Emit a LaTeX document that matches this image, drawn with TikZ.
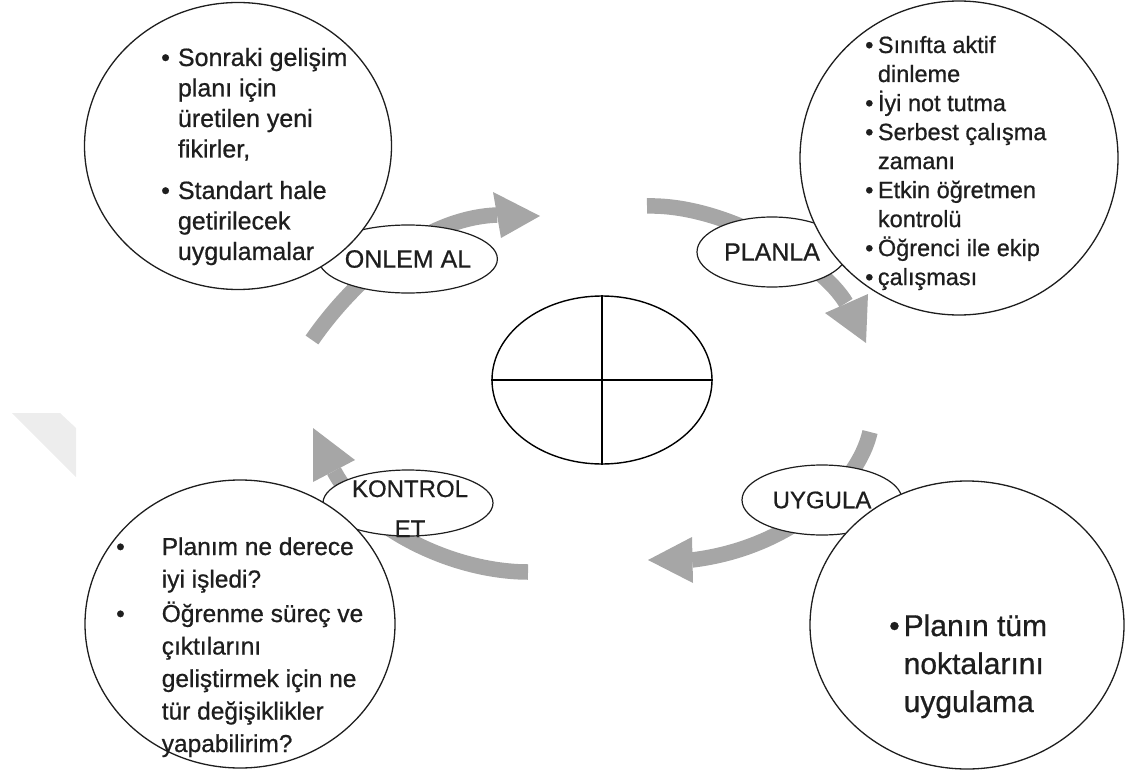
\documentclass[tikz,border=0pt]{standalone}
\usepackage{fontspec}
\setmainfont{Liberation Sans}[FakeBold=0.7]
\usetikzlibrary{shapes.geometric}
\definecolor{arr}{HTML}{A6A6A6}
\definecolor{wm}{HTML}{EDEDED}
\definecolor{ink}{HTML}{1E1E1E}
\begin{document}
\begin{tikzpicture}[x=1pt,y=-1pt,
  bubble/.style={ellipse, draw=ink, line width=1.3pt, fill=white, inner sep=0pt},
  tag/.style={ellipse, draw=ink, line width=1.2pt, fill=white, inner sep=0pt, text=ink},
  shaft/.style={draw=arr, line width=15.5pt},
  head/.style={fill=arr},
  txt/.style={inner sep=0pt, anchor=base west, text=ink}]
\useasboundingbox (0,0) rectangle (1129,778);
% faint watermark
\fill[wm] (12,413) -- (60,413) -- (76,428) -- (76,477) -- cycle;
% arrows
\coordinate (a1s) at (312,340); \coordinate (a1e) at (497,215);
\draw[shaft] (a1s) .. controls (350,285) and (420,218) .. (a1e);
\fill[head] (493,192) -- (540,216) -- (501,238) -- cycle;
\coordinate (a2s) at (647,206); \coordinate (a2e) at (846,303);
\draw[shaft] (a2s) .. controls (725,204) and (822,262) .. (a2e);
\fill[head] (825,313) -- (866,343) -- (868,294) -- cycle;
\coordinate (a3s) at (870,432); \coordinate (a3e) at (692,560);
\draw[shaft] (a3s) .. controls (858,485) and (790,548) .. (a3e);
\fill[head] (692,537) -- (648,560) -- (693,583) -- cycle;
\coordinate (a4s) at (528,572); \coordinate (a4e) at (334,471);
\draw[shaft] (a4s) .. controls (455,572) and (365,530) .. (a4e);
\fill[head] (313,482) -- (313,428) -- (355,460) -- cycle;
% centre ellipse
\node[ellipse, draw=black, line width=1.4pt, minimum width=220pt, minimum height=168pt, inner sep=0pt] (ce) at (602,380) {};
\draw[line width=1.4pt] (ce.north) -- (ce.south);
\draw[line width=1.4pt] (ce.west) -- (ce.east);
% label ellipses
\node[tag, minimum width=166pt, minimum height=68pt, font=\fontsize{25}{30}\selectfont] (onlem) at (408,259) {ONLEM AL};
\node[tag, minimum width=150pt, minimum height=70pt, font=\fontsize{25}{30}\selectfont] (planla) at (772,252) {PLANLA\hspace{8pt}};
\node[tag, minimum width=160pt, minimum height=70pt, font=\fontsize{24}{30}\selectfont] (uygula) at (822,500) {UYGULA};
\node[tag, minimum width=170pt, minimum height=66pt] (kontrol) at (408,503) {};
% circles
\node[bubble, minimum width=307pt, minimum height=287pt] (tl) at (238,146) {};
\node[bubble, minimum width=318pt, minimum height=314pt] (tr) at (959,158) {};
\node[bubble, minimum width=310pt, minimum height=288pt] (bl) at (240,624) {};
\node[bubble, minimum width=314pt, minimum height=288pt] (br) at (967,625) {};
% texts
\node[txt, font=\fontsize{25}{30.5}\selectfont] (tltext) at (161,66) {\begin{tabular}[t]{@{}l@{\hspace{8pt}}l@{}}\textbullet & Sonraki gelişim\\ & planı için\\ & üretilen yeni\\ & fikirler,\\[11pt] \textbullet & Standart hale\\ & getirilecek\\ & uygulamalar\end{tabular}};
\node[txt, font=\fontsize{23.5}{29}\selectfont] (trtext) at (865,53) {\begin{tabular}[t]{@{}l@{\hspace{4.5pt}}l@{}}\textbullet & Sınıfta aktif\\ & dinleme\\ \textbullet & İyi not tutma\\ \textbullet & Serbest çalışma\\ & zamanı\\ \textbullet & Etkin öğretmen\\ & kontrolü\\ \textbullet & Öğrenci ile ekip\\ \textbullet & çalışması\end{tabular}};
\node[txt, font=\fontsize{24.5}{32.5}\selectfont] (bltext) at (116,555) {\begin{tabular}[t]{@{}l@{\hspace{37pt}}l@{}}\textbullet & Planım ne derece\\ & iyi işledi?\\[2pt] \textbullet & Öğrenme süreç ve\\ & çıktılarını\\ & geliştirmek için ne\\ & tür değişiklikler\\ & yapabilirim?\end{tabular}};
\node[txt, font=\fontsize{30}{38}\selectfont] (brtext) at (889,636) {\begin{tabular}[t]{@{}l@{\hspace{4pt}}l@{}}\textbullet & Planın tüm\\ & noktalarını\\ & uygulama\end{tabular}};
\node[inner sep=0pt, anchor=base, text=ink, font=\fontsize{24}{40}\selectfont] (kontroltext) at ([xshift=2pt]kontrol.center |- 0,497) {\begin{tabular}[t]{@{}c@{}}KONTROL\\ET\end{tabular}};
\end{tikzpicture}
\end{document}
